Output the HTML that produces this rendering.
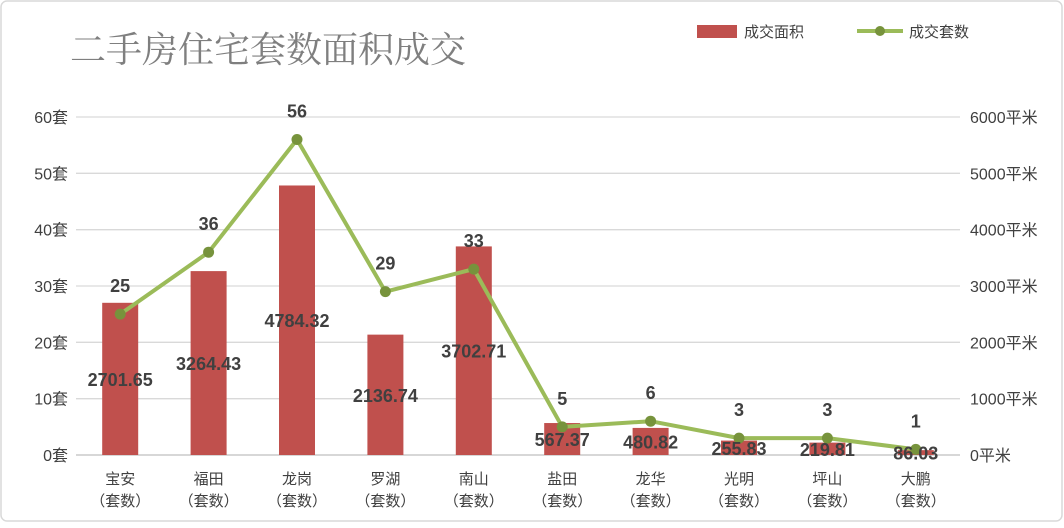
<!DOCTYPE html>
<html><head><meta charset="utf-8"><style>
body{margin:0;background:#fff;}
svg text{font-family:"Liberation Sans","Noto Sans CJK SC",sans-serif;}
</style></head><body>
<svg width="1064" height="523" viewBox="0 0 1064 523">
<rect x="1" y="1" width="1061" height="520" rx="6" fill="#fff" stroke="#d9d9d9" stroke-width="1.5"/>
<text x="70" y="62" font-size="36" fill="#7f7f7f" style='font-family:"Noto Serif CJK SC","Liberation Serif",serif'>二手房住宅套数面积成交</text>
<rect x="697" y="25" width="40" height="13" fill="#c0504d"/>
<text x="744" y="37" font-size="15" fill="#404040">成交面积</text>
<line x1="857" y1="31" x2="903" y2="31" stroke="#9bbb59" stroke-width="4"/>
<circle cx="880" cy="31" r="5" fill="#77933c"/>
<text x="909" y="37" font-size="15" fill="#404040">成交套数</text>
<g id="grid"></g><g id="bars"></g><g id="line"></g><g id="labels"></g><g id="axes"></g>
</svg>
<script>
const categories=["宝安","福田","龙岗","罗湖","南山","盐田","龙华","光明","坪山","大鹏"];
const areaValues=[2701.65,3264.43,4784.32,2136.74,3702.71,567.37,480.82,255.83,219.81,86.03];
const countValues=[25,36,56,29,33,5,6,3,3,1];
const leftTicks=[0,10,20,30,40,50,60];
const rightTicks=[0,1000,2000,3000,4000,5000,6000];
const NS="http://www.w3.org/2000/svg";
const x0=76,x1=960,y0=455,y1=117;
const step=(x1-x0)/categories.length;
const xc=i=>x0+step*(i+0.5);
const yL=v=>y0-(v/60)*(y0-y1);
const yR=v=>y0-(v/6000)*(y0-y1);
function mk(tag,attrs,parent,txt){const e=document.createElementNS(NS,tag);for(const k in attrs)e.setAttribute(k,attrs[k]);if(txt!==undefined)e.textContent=txt;document.getElementById(parent).appendChild(e);return e;}
leftTicks.forEach((t,i)=>{
 const g=mk("line",{x1:x0,x2:x1,y1:yL(t),y2:yL(t),stroke:i===0?"#bfbfbf":"#d9d9d9","stroke-width":1.3},"grid");
 
 
 const l=mk("text",{x:x0-8,y:yL(t)+6,"text-anchor":"end","font-size":16,fill:"#404040"},"axes",t+"套");
 
 
});
rightTicks.forEach(t=>{
 const l=mk("text",{x:970,y:yR(t)+6,"font-size":16,fill:"#404040"},"axes",t+"平米");
 
 
});
categories.forEach((c,i)=>{
 const a=mk("text",{x:xc(i),y:484,"text-anchor":"middle","font-size":15,fill:"#404040"},"axes",c);
 
 
 const b=mk("text",{x:xc(i),y:506,"text-anchor":"middle","font-size":15,fill:"#404040"},"axes","（套数）");
 
 
 const v=areaValues[i];
 const r=mk("rect",{x:xc(i)-18,y:yR(v),width:36,height:y0-yR(v),fill:"#c0504d"},"bars");
 
 
 const t=mk("text",{x:xc(i),y:(yR(v)+y0)/2+7,"text-anchor":"middle","font-size":18,"font-weight":"bold",fill:"#404040"},"labels",v.toFixed(2));
 
 
});
const pts=countValues.map((v,i)=>xc(i)+","+yL(v)).join(" ");
const pl=mk("polyline",{points:pts,fill:"none",stroke:"#9bbb59","stroke-width":4,"stroke-linejoin":"round"},"line");


countValues.forEach((v,i)=>{
 const c=mk("circle",{cx:xc(i),cy:yL(v),r:5.5,fill:"#77933c"},"line");
 
 
 const t=mk("text",{x:xc(i),y:yL(v)-22,"text-anchor":"middle","font-size":18,"font-weight":"bold",fill:"#404040"},"labels",v);
 
 
});
</script>
</body></html>
